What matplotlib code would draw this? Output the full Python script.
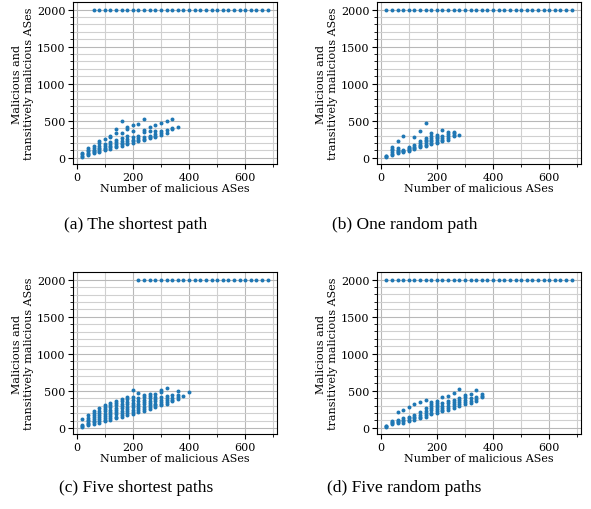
import matplotlib
matplotlib.use('Agg')
from matplotlib import pyplot as plt
from matplotlib.ticker import MultipleLocator

# numbers of malicious ASes that were tested
malicious = [20, 40, 60, 80, 100, 120, 140, 160, 180, 200, 220, 240, 260, 280,
             300, 320, 340, 360, 380, 400, 420, 440, 460, 480, 500, 520, 540,
             560, 580, 600, 620, 640, 660, 680]
saturated = 2000

# first x from which a run reaches the whole topology (y = 2000)
top_start_a = 60
top_start_b = 20
top_start_c = 220
top_start_d = 20

# remaining runs: x -> list of y
shortest = {
    20: [15, 30, 45, 60],
    40: [40, 55, 70, 90, 105, 135],
    60: [60, 75, 90, 110, 130, 165],
    80: [80, 95, 115, 135, 160, 205, 225],
    100: [100, 115, 135, 160, 185, 255],
    120: [120, 140, 160, 185, 210, 275, 300],
    140: [140, 160, 185, 210, 240, 330, 390],
    160: [160, 180, 200, 230, 260, 330, 490],
    180: [180, 200, 225, 250, 290, 390, 420],
    200: [200, 220, 245, 275, 355, 445],
    220: [220, 240, 265, 300, 455],
    240: [240, 255, 275, 350, 370, 520],
    260: [260, 280, 300, 365, 420],
    280: [280, 300, 320, 355, 445],
    300: [310, 330, 355, 470],
    320: [330, 370, 490],
    340: [390, 400, 525],
    360: [420],
}
one_random = {
    20: [15, 25, 30],
    40: [40, 55, 75, 100, 120, 150],
    60: [60, 75, 95, 110, 125, 230],
    80: [75, 85, 95, 110, 290],
    100: [90, 105, 120, 135, 150],
    120: [120, 135, 150, 170, 275],
    140: [140, 155, 175, 200, 225, 365],
    160: [160, 175, 195, 220, 245, 270, 470],
    180: [180, 200, 220, 245, 270, 300, 335],
    200: [200, 215, 235, 260, 285, 310],
    220: [220, 240, 265, 290, 370],
    240: [240, 270, 300, 325, 345],
    260: [290, 310, 330, 345],
    280: [305],
}
five_shortest = {
    20: [20, 25, 45, 120],
    40: [40, 55, 75, 95, 115, 135, 170],
    60: [60, 80, 100, 125, 150, 175, 200, 230],
    80: [75, 95, 120, 145, 170, 200, 235, 265],
    100: [90, 115, 140, 165, 195, 225, 260, 285, 310],
    120: [110, 135, 160, 190, 220, 250, 280, 310, 335],
    140: [130, 155, 185, 215, 245, 275, 305, 340, 365],
    160: [155, 180, 205, 235, 265, 300, 330, 365, 390],
    180: [175, 200, 230, 260, 290, 320, 355, 390, 420],
    200: [195, 220, 250, 280, 310, 345, 380, 415, 510],
    220: [215, 240, 265, 295, 330, 365, 400, 475],
    240: [235, 260, 290, 320, 350, 385, 415, 445],
    260: [255, 280, 310, 340, 370, 400, 430, 455],
    280: [280, 305, 330, 360, 390, 425, 465],
    300: [305, 330, 355, 385, 420, 490, 520],
    320: [330, 355, 380, 410, 435, 545],
    340: [365, 385, 410, 440],
    360: [395, 415, 440, 500],
    380: [430],
    400: [490],
}
five_random = {
    20: [15, 20, 30],
    40: [45, 60, 75, 90],
    60: [60, 75, 90, 110, 215],
    80: [70, 85, 100, 125, 235],
    100: [90, 110, 130, 150, 275],
    120: [105, 125, 150, 175, 320],
    140: [125, 150, 175, 210, 345],
    160: [145, 170, 200, 230, 265, 380],
    180: [180, 205, 235, 265, 295, 320, 350],
    200: [200, 225, 250, 280, 310, 340, 365],
    220: [220, 245, 270, 300, 330, 410],
    240: [245, 270, 300, 330, 355, 435],
    260: [265, 290, 320, 350, 375, 470],
    280: [290, 320, 350, 380, 405, 520],
    300: [315, 345, 380, 410, 445],
    320: [335, 365, 400, 455],
    340: [365, 385, 410, 505],
    360: [410, 430, 455],
}

panels = [
    (shortest, top_start_a, '(a) The shortest path'),
    (one_random, top_start_b, '(b) One random path'),
    (five_shortest, top_start_c, '(c) Five shortest paths'),
    (five_random, top_start_d, '(d) Five random paths'),
]

plt.rcParams['font.family'] = 'DejaVu Serif'
plt.rcParams['font.size'] = 8

fig = plt.figure(figsize=(5.91, 5.10), dpi=100)

lefts = [0.1235, 0.6379, 0.1235, 0.6379]
bottoms = [0.6765, 0.6765, 0.1471, 0.1471]
cap_x = [0.229, 0.685, 0.230, 0.684]
cap_y = [0.558, 0.558, 0.043, 0.043]

for i, (runs, start, caption) in enumerate(panels):
    ax = fig.add_axes([lefts[i], bottoms[i], 0.3452, 0.317])
    xs, ys = [], []
    for n in malicious:
        if n >= start:
            xs.append(n)
            ys.append(saturated)
    for n, vals in runs.items():
        for v in vals:
            xs.append(n)
            ys.append(v)
    ax.scatter(xs, ys, s=8, color='tab:blue', zorder=3, linewidths=0)

    ax.xaxis.set_minor_locator(MultipleLocator(100))
    ax.yaxis.set_minor_locator(MultipleLocator(100))
    ax.grid(which='major', color='#b8b8b8', linewidth=0.8)
    ax.grid(which='minor', color='#d0d0d0', linewidth=0.8)
    ax.set_axisbelow(True)
    ax.tick_params(pad=2)
    ax.set_xlabel('Number of malicious ASes', labelpad=1)
    ax.set_ylabel('Malicious and\ntransitively malicious ASes', labelpad=2)

    fig.text(cap_x[i], cap_y[i], caption, ha='center', va='center',
             fontsize=12.5, family='Liberation Serif')

plt.savefig('out.png', dpi=100)
